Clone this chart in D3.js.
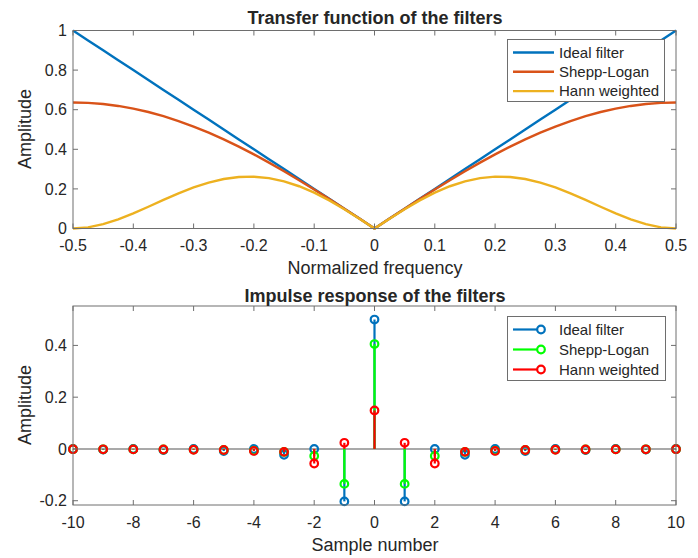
<!DOCTYPE html>
<html>
<head>
<meta charset="utf-8">
<script src="https://cdn.jsdelivr.net/npm/d3@7"></script>
<style>
  body { margin: 0; background: #fff; }
  text { font-family: "Liberation Sans", Arial, Helvetica, sans-serif; fill: #262626; }
</style>
</head>
<body>
<div id="chart"></div>
<script>
// top plot: transfer functions, sampled every 0.025
const freq = d3.range(-20, 21).map(i => i / 40);
const idealH = [1, 0.95, 0.9, 0.85, 0.8, 0.75, 0.7, 0.65, 0.6, 0.55, 0.5, 0.45, 0.4, 0.35, 0.3, 0.25, 0.2, 0.15, 0.1, 0.05,
  0, 0.05, 0.1, 0.15, 0.2, 0.25, 0.3, 0.35, 0.4, 0.45, 0.5, 0.55, 0.6, 0.65, 0.7, 0.75, 0.8, 0.85, 0.9, 0.95, 1];
const sheppH = [0.6366, 0.6347, 0.6288, 0.6190, 0.6055, 0.5882, 0.5672, 0.5428, 0.5150, 0.4841, 0.4502, 0.4134, 0.3742,
  0.3326, 0.2890, 0.2436, 0.1967, 0.1486, 0.0996, 0.0500, 0, 0.0500, 0.0996, 0.1486, 0.1967, 0.2436, 0.2890, 0.3326,
  0.3742, 0.4134, 0.4502, 0.4841, 0.5150, 0.5428, 0.5672, 0.5882, 0.6055, 0.6190, 0.6288, 0.6347, 0.6366];
const hannH = [0, 0.0058, 0.0220, 0.0463, 0.0764, 0.1098, 0.1443, 0.1775, 0.2073, 0.2320, 0.25, 0.2602, 0.2618, 0.2545,
  0.2382, 0.2134, 0.1809, 0.1418, 0.0976, 0.0497, 0, 0.0497, 0.0976, 0.1418, 0.1809, 0.2134, 0.2382, 0.2545, 0.2618,
  0.2602, 0.25, 0.2320, 0.2073, 0.1775, 0.1443, 0.1098, 0.0764, 0.0463, 0.0220, 0.0058, 0];

// bottom plot: impulse responses, n = -10..10
const samples = d3.range(-10, 11);
const idealImp = [0, -0.0025, 0, -0.0041, 0, -0.0081, 0, -0.0225, 0, -0.2026, 0.5,
  -0.2026, 0, -0.0225, 0, -0.0081, 0, -0.0041, 0, -0.0025, 0];
const sheppImp = [-0.0010, -0.0013, -0.0016, -0.0021, -0.0027, -0.0041, -0.0064, -0.0116, -0.0270, -0.1351, 0.4053,
  -0.1351, -0.0270, -0.0116, -0.0064, -0.0041, -0.0027, -0.0021, -0.0016, -0.0013, -0.0010];
const hannImp = [-0.0010, -0.0013, -0.0017, -0.0021, -0.0031, -0.0041, -0.0077, -0.0113, -0.0563, 0.0237, 0.1487,
  0.0237, -0.0563, -0.0113, -0.0077, -0.0041, -0.0031, -0.0021, -0.0017, -0.0013, -0.0010];

const topNames = ['Ideal filter', 'Shepp-Logan', 'Hann weighted'];
const topColors = ['#0072BD', '#D95319', '#EDB120'];
const botColors = ['#0072BD', '#00FF00', '#FF0000'];
const freqTicks = [-0.5, -0.4, -0.3, -0.2, -0.1, 0, 0.1, 0.2, 0.3, 0.4, 0.5];
const ampTicks = [0, 0.2, 0.4, 0.6, 0.8, 1];
const sampleTicks = [-10, -8, -6, -4, -2, 0, 2, 4, 6, 8, 10];
const impTicks = [-0.2, 0, 0.2, 0.4];

const width = 698, height = 558;
const axColor = '#6e6e6e';

// matlab style numbers: plain hyphen, no trailing zeros for integers
const fmt = d => Number.isInteger(d) ? String(d) : d.toFixed(1);

const svg = d3.select('#chart').append('svg')
  .attr('width', width)
  .attr('height', height);

function drawFrame(g, x, y, xTicks, yTicks, labelGap) {
  const [x0, x1] = x.range();
  const [y0, y1] = y.range();
  const tl = 5;
  xTicks.forEach(t => {
    g.append('line').attr('x1', x(t)).attr('x2', x(t)).attr('y1', y0).attr('y2', y0 - tl)
      .attr('stroke', axColor);
    g.append('line').attr('x1', x(t)).attr('x2', x(t)).attr('y1', y1).attr('y2', y1 + tl)
      .attr('stroke', axColor);
    g.append('text').attr('x', x(t)).attr('y', y0 + labelGap)
      .attr('text-anchor', 'middle').attr('font-size', 16).text(fmt(t));
  });
  yTicks.forEach(t => {
    g.append('line').attr('x1', x0).attr('x2', x0 + tl).attr('y1', y(t)).attr('y2', y(t))
      .attr('stroke', axColor);
    g.append('line').attr('x1', x1).attr('x2', x1 - tl).attr('y1', y(t)).attr('y2', y(t))
      .attr('stroke', axColor);
    g.append('text').attr('x', x0 - 6).attr('y', y(t)).attr('dy', '0.35em')
      .attr('text-anchor', 'end').attr('font-size', 16).text(fmt(t));
  });
  g.append('rect').attr('x', x0).attr('y', y1).attr('width', x1 - x0).attr('height', y0 - y1)
    .attr('fill', 'none').attr('stroke', axColor);
}

// ---------- top: transfer function ----------
const xTop = d3.scaleLinear().domain([-0.5, 0.5]).range([73, 676]);
const yTop = d3.scaleLinear().domain([0, 1]).range([228.5, 30.5]);
const gTop = svg.append('g');

const line = d3.line().x(d => xTop(d[0])).y(d => yTop(d[1]));
[idealH, sheppH, hannH].forEach((s, i) => {
  gTop.append('path')
    .datum(freq.map((f, k) => [f, s[k]]))
    .attr('d', line)
    .attr('fill', 'none')
    .attr('stroke', topColors[i])
    .attr('stroke-width', 2.4);
});
drawFrame(gTop, xTop, yTop, freqTicks, ampTicks, 22.5);

gTop.append('text').attr('x', 375).attr('y', 24).attr('text-anchor', 'middle')
  .attr('font-size', 18).attr('font-weight', 'bold').attr('fill', '#000')
  .text('Transfer function of the filters');
gTop.append('text').attr('x', 375).attr('y', 273.5).attr('text-anchor', 'middle')
  .attr('font-size', 18).text('Normalized frequency');
gTop.append('text').attr('transform', 'translate(31,129) rotate(-90)').attr('text-anchor', 'middle')
  .attr('font-size', 18).text('Amplitude');

// legend top
const legTop = gTop.append('g');
legTop.append('rect').attr('x', 507.5).attr('y', 39.5).attr('width', 157).attr('height', 62)
  .attr('fill', '#fff').attr('stroke', axColor);
topNames.forEach((n, i) => {
  const yy = 52.5 + i * 19.3;
  legTop.append('line').attr('x1', 513).attr('x2', 554).attr('y1', yy).attr('y2', yy)
    .attr('stroke', topColors[i]).attr('stroke-width', 2.4);
  legTop.append('text').attr('x', 559).attr('y', yy).attr('dy', '0.35em')
    .attr('font-size', 15).attr('fill', '#000').text(n);
});

// ---------- bottom: impulse response ----------
const xBot = d3.scaleLinear().domain([-10, 10]).range([73, 676]);
const yBot = d3.scaleLinear().domain([-0.2166, 0.5523]).range([505, 306]);
const gBot = svg.append('g');

// baseline
gBot.append('line').attr('x1', xBot(-10)).attr('x2', xBot(10)).attr('y1', yBot(0)).attr('y2', yBot(0))
  .attr('stroke', '#8c8c8c').attr('stroke-width', 1.5);

[idealImp, sheppImp, hannImp].forEach((s, i) => {
  const g = gBot.append('g');
  g.selectAll('line').data(samples).enter().append('line')
    .attr('x1', d => xBot(d)).attr('x2', d => xBot(d))
    .attr('y1', yBot(0)).attr('y2', (d, k) => yBot(s[k]))
    .attr('stroke', botColors[i]).attr('stroke-width', 2.2);
  g.selectAll('circle').data(samples).enter().append('circle')
    .attr('cx', d => xBot(d)).attr('cy', (d, k) => yBot(s[k]))
    .attr('r', 3.8).attr('fill', 'none')
    .attr('stroke', botColors[i]).attr('stroke-width', 2.2);
});
drawFrame(gBot, xBot, yBot, sampleTicks, impTicks, 23);

gBot.append('text').attr('x', 375).attr('y', 302).attr('text-anchor', 'middle')
  .attr('font-size', 18).attr('font-weight', 'bold').attr('fill', '#000')
  .text('Impulse response of the filters');
gBot.append('text').attr('x', 375).attr('y', 551).attr('text-anchor', 'middle')
  .attr('font-size', 18).text('Sample number');
gBot.append('text').attr('transform', 'translate(31,405) rotate(-90)').attr('text-anchor', 'middle')
  .attr('font-size', 18).text('Amplitude');

// legend bottom
const legBot = gBot.append('g');
legBot.append('rect').attr('x', 507.5).attr('y', 316.5).attr('width', 158).attr('height', 64)
  .attr('fill', '#fff').attr('stroke', axColor);
topNames.forEach((n, i) => {
  const yy = 329.5 + i * 20;
  legBot.append('line').attr('x1', 513).attr('x2', 541).attr('y1', yy).attr('y2', yy)
    .attr('stroke', botColors[i]).attr('stroke-width', 2.2);
  legBot.append('circle').attr('cx', 541).attr('cy', yy).attr('r', 3.8)
    .attr('fill', '#fff').attr('stroke', botColors[i]).attr('stroke-width', 2.2);
  legBot.append('text').attr('x', 559).attr('y', yy).attr('dy', '0.35em')
    .attr('font-size', 15).attr('fill', '#000').text(n);
});
</script>
</body>
</html>
